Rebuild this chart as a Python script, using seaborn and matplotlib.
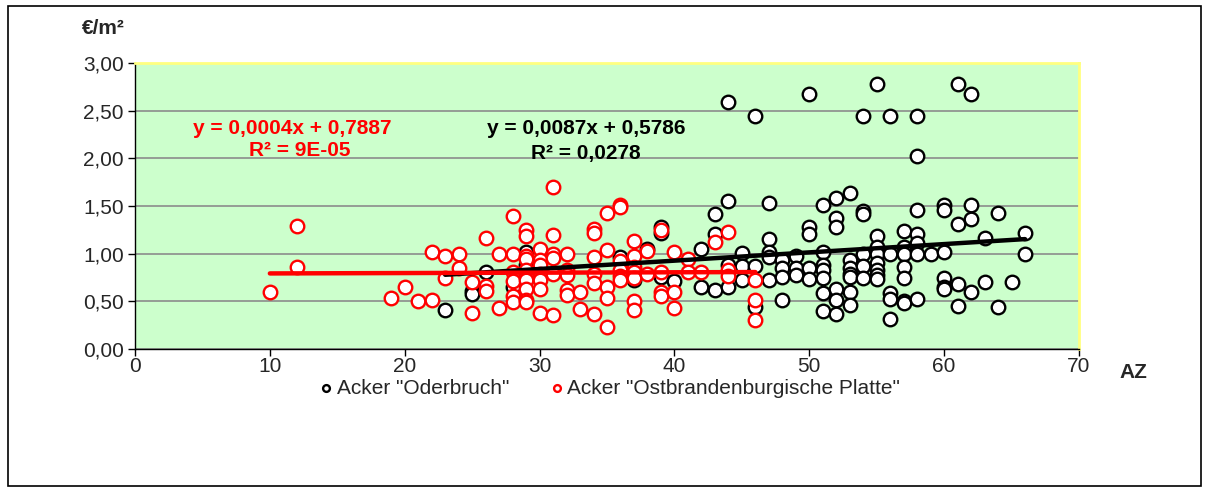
import numpy as np
import pandas as pd
import matplotlib
matplotlib.use("Agg")
import matplotlib.pyplot as plt
import matplotlib.patches as mpatches
from matplotlib.ticker import FuncFormatter, MultipleLocator
import seaborn as sns

# Acker "Oderbruch" (black)
oder_x = [23, 25, 25, 26, 28, 29, 29, 36, 37, 38, 39, 39, 39, 40,
          42, 42, 43, 43, 43, 44, 44, 44, 44, 45, 45, 45, 46, 46, 46,
          47, 47, 47, 47, 47, 48, 48, 48, 48, 49, 49, 49,
          50, 50, 50, 50, 50, 51, 51, 51, 51, 51, 51, 51,
          52, 52, 52, 52, 52, 52, 53, 53, 53, 53, 53, 53, 53,
          54, 54, 54, 54, 54, 54, 55, 55, 55, 55, 55, 55, 55, 55,
          56, 56, 56, 56, 56, 57, 57, 57, 57, 57, 57, 57,
          58, 58, 58, 58, 58, 58, 58, 59, 60, 60, 60, 60, 60, 60,
          61, 61, 61, 61, 62, 62, 62, 62, 63, 63, 64, 64, 65, 66, 66]
oder_y = [0.41, 0.61, 0.58, 0.81, 0.65, 1.02, 0.88, 0.96, 0.72, 1.05, 1.28, 1.22, 0.76, 0.71,
          1.05, 0.65, 1.42, 1.21, 0.62, 2.59, 1.55, 0.88, 0.65, 1.01, 0.87, 0.72, 2.44, 0.87, 0.44,
          1.53, 1.15, 1.02, 0.96, 0.72, 0.93, 0.85, 0.76, 0.51, 0.98, 0.85, 0.78,
          2.67, 1.28, 1.21, 0.85, 0.73, 1.51, 1.02, 0.88, 0.83, 0.74, 0.59, 0.40,
          1.58, 1.37, 1.28, 0.63, 0.51, 0.37, 1.64, 0.93, 0.85, 0.79, 0.76, 0.60, 0.46,
          2.44, 1.45, 1.42, 1.00, 0.87, 0.75, 2.78, 1.19, 1.07, 1.00, 0.90, 0.83, 0.78, 0.73,
          2.44, 1.00, 0.59, 0.52, 0.31, 1.24, 1.07, 1.00, 0.86, 0.75, 0.50, 0.48,
          2.44, 2.02, 1.46, 1.21, 1.11, 1.00, 0.52, 1.00, 1.51, 1.46, 1.02, 0.75, 0.65, 0.63,
          2.78, 1.31, 0.68, 0.45, 2.67, 1.51, 1.36, 0.60, 1.16, 0.70, 1.43, 0.44, 0.70, 1.22, 1.00]

# Acker "Ostbrandenburgische Platte" (red)
ost_x = [10, 12, 12, 19, 20, 21, 22, 22, 23, 23, 24, 24, 25, 25, 26, 26, 26, 27, 27,
         28, 28, 28, 28, 28, 28, 29, 29, 29, 29, 29, 29, 29, 29, 29,
         30, 30, 30, 30, 30, 30, 30, 31, 31, 31, 31, 31, 31, 32, 32, 32, 32, 32, 33, 33,
         34, 34, 34, 34, 34, 34, 35, 35, 35, 35, 35, 36, 36, 36, 36, 36, 36,
         37, 37, 37, 37, 37, 37, 37, 38, 38, 39, 39, 39, 39, 40, 40, 40,
         41, 41, 42, 43, 44, 44, 44, 46, 46, 46]
ost_y = [0.60, 1.29, 0.86, 0.54, 0.65, 0.50, 1.02, 0.51, 0.98, 0.75, 1.00, 0.85, 0.70, 0.38,
         1.16, 0.66, 0.61, 1.00, 0.43,
         1.40, 1.00, 0.81, 0.71, 0.56, 0.49, 1.25, 1.19, 0.98, 0.94, 0.83, 0.72, 0.63, 0.51, 0.49,
         1.05, 0.93, 0.88, 0.79, 0.72, 0.63, 0.38, 1.70, 1.20, 1.00, 0.95, 0.79, 0.36,
         1.00, 0.83, 0.78, 0.62, 0.57, 0.60, 0.42,
         1.26, 1.22, 0.96, 0.79, 0.69, 0.37, 1.43, 1.04, 0.65, 0.54, 0.23,
         1.51, 1.49, 0.92, 0.83, 0.77, 0.72,
         1.13, 0.98, 0.86, 0.81, 0.74, 0.50, 0.41, 1.03, 0.79, 1.25, 0.81, 0.60, 0.56,
         1.02, 0.60, 0.43, 0.94, 0.81, 0.81, 1.12, 1.23, 0.83, 0.77, 0.72, 0.51, 0.30]

# trend line coefficients as printed in the chart
oder_fit = (0.0087, 0.5786)
ost_fit = (0.0004, 0.7887)

sns.set_style("white")
plt.rcParams["font.family"] = ["Liberation Sans", "DejaVu Sans"]

W, H = 1215, 497
fig = plt.figure(figsize=(W / 100, H / 100), dpi=100)
ax = fig.add_axes([135 / W, 1 - 349 / H, (1079 - 135) / W, (349 - 63) / H])
ax.set_facecolor("#CCFFCC")

df_oder = pd.DataFrame({"AZ": oder_x, "val": oder_y})
df_ost = pd.DataFrame({"AZ": ost_x, "val": ost_y})

sns.scatterplot(data=df_oder, x="AZ", y="val", ax=ax, s=95, color="white",
                edgecolor="black", linewidth=1.7, label='Acker "Oderbruch"', zorder=3)
sns.scatterplot(data=df_ost, x="AZ", y="val", ax=ax, s=95, color="white",
                edgecolor="#FF0000", linewidth=1.7, label='Acker "Ostbrandenburgische Platte"', zorder=3)

# trend lines over each series' x range
for df, (m, b), col in [(df_oder, oder_fit, "black"), (df_ost, ost_fit, "#FF0000")]:
    xs = np.array([df["AZ"].min(), df["AZ"].max()])
    line = pd.DataFrame({"AZ": xs, "val": m * xs + b})
    sns.lineplot(data=line, x="AZ", y="val", ax=ax, color=col, linewidth=3.2,
                 zorder=4, legend=False)

ax.set_xlim(0, 70)
ax.set_ylim(0, 3)
ax.xaxis.set_major_locator(MultipleLocator(10))
ax.yaxis.set_major_locator(MultipleLocator(0.5))
ax.yaxis.set_major_formatter(FuncFormatter(lambda v, p: f"{v:.2f}".replace(".", ",")))
ax.grid(axis="y", color="#8C8C8C", linewidth=1.2)
ax.set_axisbelow(True)
ax.tick_params(axis="both", direction="out", length=5, width=1, color="black",
               labelsize=15, left=True, bottom=True)
ax.tick_params(axis="x", pad=1)
ax.tick_params(axis="y", pad=3)
ax.set_xlabel("")
ax.set_ylabel("")
for side in ["left", "bottom"]:
    ax.spines[side].set_color("black")
    ax.spines[side].set_linewidth(1)
for side in ["top", "right"]:
    ax.spines[side].set_color("#FFFF80")
    ax.spines[side].set_linewidth(2)

leg = ax.legend(loc="center", bbox_to_anchor=((608 - 135) / 944, -(388 - 349) / 286),
                ncol=2, frameon=False, fontsize=15, markerscale=0.5,
                handletextpad=0.0, columnspacing=1.8, handlelength=1.0, borderaxespad=0)

# regression equations
fig.text(292 / W, 1 - 128 / H, "y = 0,0004x + 0,7887", color="#FF0000", fontsize=15,
         fontweight="bold", ha="center", va="center")
fig.text(300 / W, 1 - 151 / H, "R² = 9E-05", color="#FF0000", fontsize=15,
         fontweight="bold", ha="center", va="center")
fig.text(586 / W, 1 - 128 / H, "y = 0,0087x + 0,5786", color="black", fontsize=15,
         fontweight="bold", ha="center", va="center")
fig.text(586 / W, 1 - 153 / H, "R² = 0,0278", color="black", fontsize=15,
         fontweight="bold", ha="center", va="center")

# axis titles
fig.text(103 / W, 1 - 28 / H, "€/m²", fontsize=15, fontweight="bold", ha="center", va="center")
fig.text(1133 / W, 1 - 372 / H, "AZ", fontsize=15, fontweight="bold", ha="center", va="center")

# outer chart border
fig.patches.append(mpatches.Rectangle((8 / W, 1 - 486 / H), (1201 - 8) / W, (486 - 6) / H,
                                      transform=fig.transFigure, fill=False,
                                      edgecolor="black", linewidth=1.2))

fig.savefig("out.png", dpi=100, facecolor="white")
